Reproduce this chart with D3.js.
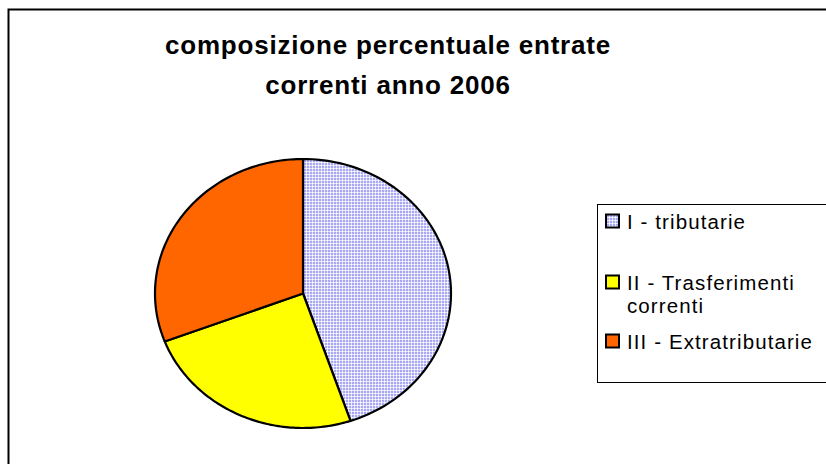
<!DOCTYPE html>
<html>
<head>
<meta charset="utf-8">
<script src="https://cdn.jsdelivr.net/npm/d3@7"></script>
<style>
  body { margin: 0; background: #fff; }
  svg text { font-family: Arial, "Liberation Sans", sans-serif; }
</style>
</head>
<body>
<div id="chart"></div>
<script>
var categories = ["I - tributarie", "II - Trasferimenti correnti", "III - Extratributarie"];
var values = [44.8, 24.4, 30.8];
var legendLines = [["I - tributarie"], ["II - Trasferimenti", "correnti"], ["III - Extratributarie"]];
var titleLines = ["composizione percentuale entrate", "correnti anno 2006"];
var colors = ["url(#hatch)", "#ffff00", "#ff6600"];

var dim = {
    width: 826, height: 464,
    pie: { cx: 303, cy: 293.5, rx: 148, ry: 134.5 },
    legend: { x: 597.5, y: 204.5, width: 240, height: 178 }
};

var svg = d3.select("#chart").append("svg")
        .attr("width", dim.width)
        .attr("height", dim.height);

var defs = svg.append("defs");
var hatch = defs.append("pattern")
        .attr("id", "hatch")
        .attr("patternUnits", "userSpaceOnUse")
        .attr("width", 3)
        .attr("height", 3);
hatch.append("rect").attr("width", 3).attr("height", 3).attr("fill", "#a8a8f4");
hatch.append("rect").attr("width", 3).attr("height", 1).attr("fill", "#e4e4fb");
hatch.append("rect").attr("width", 1).attr("height", 3).attr("fill", "#e4e4fb");
hatch.append("rect").attr("width", 1).attr("height", 1).attr("fill", "#ffffff");

// outer chart frame (runs off the right/bottom edge)
svg.append("rect")
        .attr("x", 8.5).attr("y", 9.5)
        .attr("width", 900).attr("height", 600)
        .attr("fill", "none")
        .attr("stroke", "#000")
        .attr("stroke-width", 2);

svg.append("g")
        .attr("class", "title")
    .selectAll("text").data(titleLines)
    .enter().append("text")
        .attr("x", 388)
        .attr("y", function(d, i) { return 54 + i * 40; })
        .attr("text-anchor", "middle")
        .attr("font-size", 26)
        .attr("font-weight", "bold")
        .attr("letter-spacing", 0.8)
        .text(function(d) { return d; });

var pie = d3.pie().sort(null).value(function(d) { return d; });

// slices drawn as elliptical paths (pie is squashed vertically)
function slicePath(d) {
    var p = d3.path();
    var n = 90;
    p.moveTo(dim.pie.cx, dim.pie.cy);
    for (var k = 0; k <= n; k++) {
        var a = d.startAngle + (d.endAngle - d.startAngle) * k / n;
        p.lineTo(dim.pie.cx + dim.pie.rx * Math.sin(a), dim.pie.cy - dim.pie.ry * Math.cos(a));
    }
    p.closePath();
    return p.toString();
}

svg.append("g").attr("class", "pie")
    .selectAll("path").data(pie(values))
    .enter().append("path")
        .attr("d", slicePath)
        .attr("fill", function(d, i) { return colors[i]; })
        .attr("stroke", "#000")
        .attr("stroke-width", 2.2)
        .attr("stroke-linejoin", "round");

// legend
var legend = svg.append("g").attr("class", "legend");
legend.append("rect")
        .attr("x", dim.legend.x).attr("y", dim.legend.y)
        .attr("width", dim.legend.width).attr("height", dim.legend.height)
        .attr("fill", "#fff")
        .attr("stroke", "#000")
        .attr("stroke-width", 1);

var itemY = [229, 290, 349];
var items = legend.selectAll("g.item").data(categories)
    .enter().append("g")
        .attr("class", "item")
        .attr("transform", function(d, i) { return "translate(0," + itemY[i] + ")"; });

items.append("rect")
        .attr("x", 606).attr("y", -14.5)
        .attr("width", 13).attr("height", 13)
        .attr("fill", function(d, i) { return colors[i]; })
        .attr("stroke", "#000")
        .attr("stroke-width", 2);

items.append("text")
        .attr("font-size", 20.5)
        .attr("letter-spacing", 1.1)
    .selectAll("tspan").data(function(d, i) { return legendLines[i]; })
    .enter().append("tspan")
        .attr("x", 627)
        .attr("y", function(d, j) { return j * 23; })
        .text(function(d) { return d; });
</script>
</body>
</html>
